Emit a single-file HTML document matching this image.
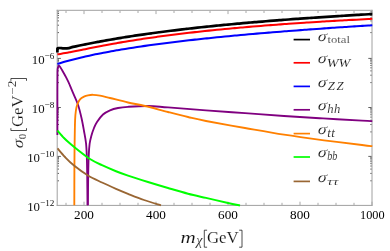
<!DOCTYPE html>
<html><head><meta charset="utf-8"><title>plot</title><style>html,body{margin:0;padding:0;background:#fff;width:390px;height:251px;overflow:hidden}</style></head><body>
<svg width="390" height="251" viewBox="0 0 390 251" style="position:absolute;left:0;top:0;will-change:transform">
<rect width="390" height="251" fill="#fff"/>
<g stroke="#a0a0a0" stroke-width="1" fill="none">
<path d="M57.2 9.8V205.9M56.7 10.3H372.5M56.7 205.4H372.5M372 9.8V205.9"/>
</g>
<path d="M66.00 205v-2.2M66.00 10.8v2.2M84.00 205v-3.3M84.00 10.8v3.3M102.00 205v-2.2M102.00 10.8v2.2M120.00 205v-2.2M120.00 10.8v2.2M138.00 205v-2.2M138.00 10.8v2.2M156.00 205v-3.3M156.00 10.8v3.3M174.00 205v-2.2M174.00 10.8v2.2M192.00 205v-2.2M192.00 10.8v2.2M210.00 205v-2.2M210.00 10.8v2.2M228.00 205v-3.3M228.00 10.8v3.3M246.00 205v-2.2M246.00 10.8v2.2M264.00 205v-2.2M264.00 10.8v2.2M282.00 205v-2.2M282.00 10.8v2.2M300.00 205v-3.3M300.00 10.8v3.3M318.00 205v-2.2M318.00 10.8v2.2M336.00 205v-2.2M336.00 10.8v2.2M354.00 205v-2.2M354.00 10.8v2.2M372.00 205v-3.3M372.00 10.8v3.3" stroke="#a8a8a8" stroke-width="1" fill="none"/>
<path d="M57.7 58.40h3.2M371.5 58.40h-3.2M57.7 107.50h3.2M371.5 107.50h-3.2M57.7 156.40h3.2M371.5 156.40h-3.2M57.7 32.60h1.3M371.6 32.60h-1.3M57.7 25.21h1.3M371.6 25.21h-1.3M57.7 20.89h1.3M371.6 20.89h-1.3M57.7 17.82h1.3M371.6 17.82h-1.3M57.7 15.44h1.3M371.6 15.44h-1.3M57.7 13.50h1.3M371.6 13.50h-1.3M57.7 11.85h1.3M371.6 11.85h-1.3M57.7 82.60h1.3M371.6 82.60h-1.3M57.7 75.21h1.3M371.6 75.21h-1.3M57.7 70.89h1.3M371.6 70.89h-1.3M57.7 67.82h1.3M371.6 67.82h-1.3M57.7 65.44h1.3M371.6 65.44h-1.3M57.7 63.50h1.3M371.6 63.50h-1.3M57.7 61.85h1.3M371.6 61.85h-1.3M57.7 60.43h1.3M371.6 60.43h-1.3M57.7 59.17h1.3M371.6 59.17h-1.3M57.7 131.90h1.3M371.6 131.90h-1.3M57.7 124.51h1.3M371.6 124.51h-1.3M57.7 120.19h1.3M371.6 120.19h-1.3M57.7 117.12h1.3M371.6 117.12h-1.3M57.7 114.74h1.3M371.6 114.74h-1.3M57.7 112.80h1.3M371.6 112.80h-1.3M57.7 111.15h1.3M371.6 111.15h-1.3M57.7 109.73h1.3M371.6 109.73h-1.3M57.7 108.47h1.3M371.6 108.47h-1.3M57.7 180.80h1.3M371.6 180.80h-1.3M57.7 173.41h1.3M371.6 173.41h-1.3M57.7 169.09h1.3M371.6 169.09h-1.3M57.7 166.02h1.3M371.6 166.02h-1.3M57.7 163.64h1.3M371.6 163.64h-1.3M57.7 161.70h1.3M371.6 161.70h-1.3M57.7 160.05h1.3M371.6 160.05h-1.3M57.7 158.63h1.3M371.6 158.63h-1.3M57.7 157.37h1.3M371.6 157.37h-1.3" stroke="#3a3a3a" stroke-width="0.8" fill="none"/>
<g fill="none" stroke-linejoin="round">
<path d="M57.40 52.50 L57.40 48.60 L58.50 48.10" stroke="#000" stroke-width="2.7"/>
<path d="M57.40 48.60 C57.58 48.52 58.07 48.20 58.50 48.10 C58.93 48.00 59.08 47.95 60.00 48.00 C60.92 48.05 62.50 48.38 64.00 48.40 C65.50 48.42 67.67 48.31 69.00 48.10 C70.33 47.89 70.87 47.43 72.00 47.13 C73.13 46.84 74.53 46.60 75.80 46.34 C77.07 46.07 78.34 45.81 79.60 45.55 C80.87 45.29 82.14 45.03 83.40 44.77 C84.67 44.51 85.94 44.26 87.21 44.00 C88.47 43.75 89.74 43.50 91.01 43.25 C92.27 43.00 93.54 42.76 94.81 42.52 C96.07 42.27 97.34 42.03 98.61 41.80 C99.88 41.56 101.14 41.32 102.41 41.09 C103.68 40.86 104.94 40.63 106.21 40.40 C107.48 40.17 108.75 39.95 110.01 39.73 C111.28 39.50 112.55 39.28 113.81 39.07 C115.08 38.85 116.35 38.64 117.62 38.42 C118.88 38.21 120.15 38.00 121.42 37.79 C122.68 37.59 123.95 37.38 125.22 37.18 C126.48 36.98 127.75 36.78 129.02 36.58 C130.29 36.38 131.55 36.18 132.82 35.99 C134.09 35.80 135.35 35.61 136.62 35.42 C137.89 35.23 139.16 35.04 140.42 34.85 C141.69 34.67 142.96 34.49 144.22 34.30 C145.49 34.12 146.76 33.94 148.03 33.77 C149.29 33.59 150.56 33.41 151.83 33.24 C153.09 33.06 154.36 32.89 155.63 32.72 C156.89 32.55 158.16 32.38 159.43 32.22 C160.70 32.05 161.96 31.89 163.23 31.72 C164.50 31.56 165.76 31.40 167.03 31.24 C168.30 31.08 169.57 30.92 170.83 30.76 C172.10 30.60 173.37 30.45 174.63 30.29 C175.90 30.14 177.17 29.99 178.44 29.84 C179.70 29.69 180.97 29.54 182.24 29.39 C183.50 29.24 184.77 29.09 186.04 28.95 C187.31 28.80 188.57 28.66 189.84 28.52 C191.11 28.37 192.37 28.23 193.64 28.09 C194.91 27.95 196.17 27.81 197.44 27.68 C198.71 27.54 199.98 27.40 201.24 27.27 C202.51 27.13 203.78 27.00 205.04 26.86 C206.31 26.73 207.58 26.60 208.85 26.47 C210.11 26.34 211.38 26.21 212.65 26.08 C213.91 25.95 215.18 25.83 216.45 25.70 C217.72 25.57 218.98 25.45 220.25 25.32 C221.52 25.20 222.78 25.08 224.05 24.96 C225.32 24.83 226.58 24.71 227.85 24.59 C229.12 24.47 230.39 24.35 231.65 24.24 C232.92 24.12 234.19 24.00 235.45 23.88 C236.72 23.77 237.99 23.65 239.26 23.54 C240.52 23.42 241.79 23.31 243.06 23.20 C244.32 23.09 245.59 22.97 246.86 22.86 C248.13 22.75 249.39 22.64 250.66 22.53 C251.93 22.42 253.19 22.32 254.46 22.21 C255.73 22.10 256.99 21.99 258.26 21.89 C259.53 21.78 260.80 21.68 262.06 21.57 C263.33 21.47 264.60 21.36 265.86 21.26 C267.13 21.16 268.40 21.06 269.67 20.95 C270.93 20.85 272.20 20.75 273.47 20.65 C274.73 20.55 276.00 20.45 277.27 20.36 C278.54 20.26 279.80 20.16 281.07 20.06 C282.34 19.96 283.60 19.87 284.87 19.77 C286.14 19.68 287.41 19.58 288.67 19.49 C289.94 19.39 291.21 19.30 292.47 19.21 C293.74 19.11 295.01 19.02 296.27 18.93 C297.54 18.84 298.81 18.74 300.08 18.65 C301.34 18.56 302.61 18.47 303.88 18.38 C305.14 18.29 306.41 18.21 307.68 18.12 C308.95 18.03 310.21 17.94 311.48 17.85 C312.75 17.77 314.01 17.68 315.28 17.59 C316.55 17.51 317.82 17.42 319.08 17.34 C320.35 17.25 321.62 17.17 322.88 17.08 C324.15 17.00 325.42 16.92 326.68 16.83 C327.95 16.75 329.22 16.67 330.49 16.59 C331.75 16.50 333.02 16.42 334.29 16.34 C335.55 16.26 336.82 16.18 338.09 16.10 C339.36 16.02 340.62 15.94 341.89 15.86 C343.16 15.78 344.42 15.71 345.69 15.63 C346.96 15.55 348.23 15.47 349.49 15.40 C350.76 15.32 352.03 15.24 353.29 15.17 C354.56 15.09 355.83 15.01 357.09 14.94 C358.36 14.86 359.63 14.79 360.90 14.71 C362.16 14.64 363.43 14.57 364.70 14.49 C365.96 14.42 367.23 14.35 368.50 14.27 C369.77 14.20 371.67 14.09 372.30 14.06" stroke="#000" stroke-width="2.7"/>
<path d="M57.40 54.32 C58.06 54.22 60.06 53.94 61.39 53.73 C62.71 53.52 64.04 53.29 65.37 53.05 C66.70 52.82 68.03 52.57 69.36 52.31 C70.69 52.06 72.02 51.80 73.34 51.54 C74.67 51.28 76.00 51.01 77.33 50.74 C78.66 50.48 79.99 50.21 81.32 49.94 C82.65 49.67 83.97 49.40 85.30 49.13 C86.63 48.86 87.96 48.60 89.29 48.33 C90.62 48.06 91.95 47.80 93.27 47.54 C94.60 47.28 95.93 47.01 97.26 46.76 C98.59 46.50 99.92 46.24 101.25 45.99 C102.58 45.73 103.90 45.48 105.23 45.24 C106.56 44.99 107.89 44.74 109.22 44.50 C110.55 44.25 111.88 44.01 113.21 43.77 C114.53 43.54 115.86 43.30 117.19 43.07 C118.52 42.84 119.85 42.61 121.18 42.38 C122.51 42.15 123.83 41.93 125.16 41.70 C126.49 41.48 127.82 41.26 129.15 41.05 C130.48 40.83 131.81 40.61 133.14 40.40 C134.46 40.19 135.79 39.98 137.12 39.77 C138.45 39.57 139.78 39.36 141.11 39.16 C142.44 38.96 143.76 38.76 145.09 38.56 C146.42 38.36 147.75 38.17 149.08 37.98 C150.41 37.78 151.74 37.59 153.07 37.41 C154.39 37.22 155.72 37.03 157.05 36.85 C158.38 36.66 159.71 36.48 161.04 36.30 C162.37 36.12 163.70 35.95 165.02 35.77 C166.35 35.59 167.68 35.42 169.01 35.25 C170.34 35.08 171.67 34.91 173.00 34.74 C174.32 34.57 175.65 34.41 176.98 34.24 C178.31 34.08 179.64 33.92 180.97 33.76 C182.30 33.60 183.63 33.44 184.95 33.28 C186.28 33.13 187.61 32.97 188.94 32.82 C190.27 32.66 191.60 32.51 192.93 32.36 C194.26 32.21 195.58 32.06 196.91 31.92 C198.24 31.77 199.57 31.62 200.90 31.48 C202.23 31.34 203.56 31.20 204.88 31.05 C206.21 30.91 207.54 30.77 208.87 30.64 C210.20 30.50 211.53 30.36 212.86 30.23 C214.19 30.09 215.51 29.96 216.84 29.83 C218.17 29.69 219.50 29.56 220.83 29.43 C222.16 29.30 223.49 29.18 224.82 29.05 C226.14 28.92 227.47 28.80 228.80 28.67 C230.13 28.55 231.46 28.42 232.79 28.30 C234.12 28.18 235.44 28.06 236.77 27.94 C238.10 27.82 239.43 27.70 240.76 27.58 C242.09 27.47 243.42 27.35 244.75 27.24 C246.07 27.12 247.40 27.01 248.73 26.89 C250.06 26.78 251.39 26.67 252.72 26.56 C254.05 26.45 255.38 26.34 256.70 26.23 C258.03 26.12 259.36 26.01 260.69 25.91 C262.02 25.80 263.35 25.69 264.68 25.59 C266.00 25.49 267.33 25.38 268.66 25.28 C269.99 25.18 271.32 25.07 272.65 24.97 C273.98 24.87 275.31 24.77 276.63 24.67 C277.96 24.57 279.29 24.48 280.62 24.38 C281.95 24.28 283.28 24.18 284.61 24.09 C285.94 23.99 287.26 23.90 288.59 23.80 C289.92 23.71 291.25 23.62 292.58 23.53 C293.91 23.43 295.24 23.34 296.56 23.25 C297.89 23.16 299.22 23.07 300.55 22.98 C301.88 22.89 303.21 22.80 304.54 22.72 C305.87 22.63 307.19 22.54 308.52 22.46 C309.85 22.37 311.18 22.28 312.51 22.20 C313.84 22.12 315.17 22.03 316.49 21.95 C317.82 21.86 319.15 21.78 320.48 21.70 C321.81 21.62 323.14 21.54 324.47 21.46 C325.80 21.38 327.12 21.30 328.45 21.22 C329.78 21.14 331.11 21.06 332.44 20.98 C333.77 20.90 335.10 20.83 336.43 20.75 C337.75 20.67 339.08 20.60 340.41 20.52 C341.74 20.45 343.07 20.37 344.40 20.30 C345.73 20.22 347.05 20.15 348.38 20.08 C349.71 20.00 351.04 19.93 352.37 19.86 C353.70 19.79 355.03 19.72 356.36 19.65 C357.68 19.58 359.01 19.51 360.34 19.44 C361.67 19.37 363.00 19.30 364.33 19.23 C365.66 19.16 366.99 19.09 368.31 19.03 C369.64 18.96 371.64 18.86 372.30 18.82" stroke="#f00" stroke-width="2.05"/>
<path d="M57.40 63.93 C58.06 63.72 60.06 63.11 61.39 62.71 C62.71 62.32 64.04 61.93 65.37 61.56 C66.70 61.18 68.03 60.81 69.36 60.46 C70.69 60.10 72.02 59.75 73.34 59.41 C74.67 59.07 76.00 58.73 77.33 58.40 C78.66 58.08 79.99 57.76 81.32 57.44 C82.65 57.13 83.97 56.82 85.30 56.52 C86.63 56.22 87.96 55.93 89.29 55.64 C90.62 55.35 91.95 55.06 93.27 54.78 C94.60 54.51 95.93 54.23 97.26 53.96 C98.59 53.69 99.92 53.43 101.25 53.17 C102.58 52.91 103.90 52.65 105.23 52.40 C106.56 52.15 107.89 51.90 109.22 51.66 C110.55 51.42 111.88 51.18 113.21 50.94 C114.53 50.71 115.86 50.47 117.19 50.24 C118.52 50.02 119.85 49.79 121.18 49.57 C122.51 49.35 123.83 49.13 125.16 48.91 C126.49 48.69 127.82 48.48 129.15 48.27 C130.48 48.06 131.81 47.85 133.14 47.65 C134.46 47.44 135.79 47.24 137.12 47.04 C138.45 46.84 139.78 46.64 141.11 46.45 C142.44 46.25 143.76 46.06 145.09 45.87 C146.42 45.68 147.75 45.49 149.08 45.31 C150.41 45.12 151.74 44.94 153.07 44.76 C154.39 44.58 155.72 44.40 157.05 44.22 C158.38 44.04 159.71 43.87 161.04 43.70 C162.37 43.52 163.70 43.35 165.02 43.18 C166.35 43.01 167.68 42.84 169.01 42.68 C170.34 42.51 171.67 42.35 173.00 42.18 C174.32 42.02 175.65 41.86 176.98 41.70 C178.31 41.54 179.64 41.38 180.97 41.23 C182.30 41.07 183.63 40.92 184.95 40.76 C186.28 40.61 187.61 40.46 188.94 40.31 C190.27 40.16 191.60 40.01 192.93 39.86 C194.26 39.71 195.58 39.57 196.91 39.42 C198.24 39.28 199.57 39.13 200.90 38.99 C202.23 38.85 203.56 38.71 204.88 38.57 C206.21 38.43 207.54 38.29 208.87 38.15 C210.20 38.01 211.53 37.87 212.86 37.74 C214.19 37.60 215.51 37.47 216.84 37.34 C218.17 37.20 219.50 37.07 220.83 36.94 C222.16 36.81 223.49 36.68 224.82 36.55 C226.14 36.42 227.47 36.29 228.80 36.17 C230.13 36.04 231.46 35.91 232.79 35.79 C234.12 35.66 235.44 35.54 236.77 35.42 C238.10 35.29 239.43 35.17 240.76 35.05 C242.09 34.93 243.42 34.81 244.75 34.69 C246.07 34.57 247.40 34.45 248.73 34.33 C250.06 34.22 251.39 34.10 252.72 33.98 C254.05 33.87 255.38 33.75 256.70 33.64 C258.03 33.52 259.36 33.41 260.69 33.30 C262.02 33.18 263.35 33.07 264.68 32.96 C266.00 32.85 267.33 32.74 268.66 32.63 C269.99 32.52 271.32 32.41 272.65 32.30 C273.98 32.19 275.31 32.08 276.63 31.98 C277.96 31.87 279.29 31.76 280.62 31.66 C281.95 31.55 283.28 31.45 284.61 31.34 C285.94 31.24 287.26 31.13 288.59 31.03 C289.92 30.93 291.25 30.83 292.58 30.72 C293.91 30.62 295.24 30.52 296.56 30.42 C297.89 30.32 299.22 30.22 300.55 30.12 C301.88 30.02 303.21 29.92 304.54 29.82 C305.87 29.73 307.19 29.63 308.52 29.53 C309.85 29.43 311.18 29.34 312.51 29.24 C313.84 29.15 315.17 29.05 316.49 28.95 C317.82 28.86 319.15 28.77 320.48 28.67 C321.81 28.58 323.14 28.49 324.47 28.39 C325.80 28.30 327.12 28.21 328.45 28.12 C329.78 28.02 331.11 27.93 332.44 27.84 C333.77 27.75 335.10 27.66 336.43 27.57 C337.75 27.48 339.08 27.39 340.41 27.30 C341.74 27.21 343.07 27.13 344.40 27.04 C345.73 26.95 347.05 26.86 348.38 26.78 C349.71 26.69 351.04 26.60 352.37 26.52 C353.70 26.43 355.03 26.35 356.36 26.26 C357.68 26.17 359.01 26.09 360.34 26.01 C361.67 25.92 363.00 25.84 364.33 25.75 C365.66 25.67 366.99 25.59 368.31 25.51 C369.64 25.42 371.64 25.30 372.30 25.26" stroke="#00f" stroke-width="2.05"/>
<path d="M57.40 135.00 C57.40 132.50 57.40 127.50 57.40 120.00 C57.40 112.50 57.38 98.00 57.40 90.00 C57.42 82.00 57.43 75.67 57.50 72.00 C57.57 68.33 57.60 69.05 57.80 68.00 C58.00 66.95 58.33 65.90 58.70 65.70 C59.07 65.50 59.45 66.08 60.00 66.80 C60.55 67.52 61.33 68.88 62.00 70.00 C62.67 71.12 63.33 72.30 64.00 73.50 C64.67 74.70 65.25 75.75 66.00 77.20 C66.75 78.65 67.83 80.78 68.50 82.20 C69.17 83.62 69.08 83.53 70.00 85.70 C70.92 87.87 72.67 92.02 74.00 95.20 C75.33 98.38 76.75 101.00 78.00 104.80 C79.25 108.60 80.50 113.63 81.50 118.00 C82.50 122.37 83.25 126.83 84.00 131.00 C84.75 135.17 85.53 138.83 86.00 143.00 C86.47 147.17 86.60 150.67 86.80 156.00 C87.00 161.33 87.08 166.78 87.20 175.00 C87.32 183.22 87.45 200.25 87.50 205.30" stroke="#800080" stroke-width="1.85"/>
<path d="M87.90 205.30 C87.95 200.25 88.07 183.22 88.20 175.00 C88.33 166.78 88.47 161.17 88.70 156.00 C88.93 150.83 89.17 147.33 89.60 144.00 C90.03 140.67 90.57 138.67 91.30 136.00 C92.03 133.33 93.05 130.33 94.00 128.00 C94.95 125.67 95.50 124.25 97.00 122.00 C98.50 119.75 100.83 116.45 103.00 114.50 C105.17 112.55 107.50 111.38 110.00 110.30 C112.50 109.22 115.00 108.58 118.00 108.00 C121.00 107.42 123.00 107.13 128.00 106.80 C133.00 106.47 141.33 105.90 148.00 106.00 C154.67 106.10 158.33 106.67 168.00 107.40 C177.67 108.13 193.17 109.43 206.00 110.40 C218.83 111.37 232.00 112.27 245.00 113.20 C258.00 114.13 271.00 115.13 284.00 116.00 C297.00 116.87 310.00 117.63 323.00 118.40 C336.00 119.17 353.78 120.15 362.00 120.60 C370.22 121.05 370.58 121.02 372.30 121.10" stroke="#800080" stroke-width="1.85"/>
<path d="M74.30 205.30 C74.32 199.42 74.35 180.05 74.40 170.00 C74.45 159.95 74.48 153.33 74.60 145.00 C74.72 136.67 74.87 125.83 75.10 120.00 C75.33 114.17 75.63 112.58 76.00 110.00 C76.37 107.42 76.63 106.27 77.30 104.50 C77.97 102.73 78.88 100.72 80.00 99.40 C81.12 98.08 82.67 97.28 84.00 96.60 C85.33 95.92 86.50 95.60 88.00 95.30 C89.50 95.00 91.00 94.75 93.00 94.80 C95.00 94.85 97.17 95.07 100.00 95.60 C102.83 96.13 105.33 96.85 110.00 98.00 C114.67 99.15 122.17 101.17 128.00 102.50 C133.83 103.83 138.33 104.42 145.00 106.00 C151.67 107.58 160.83 110.17 168.00 112.00 C175.17 113.83 181.67 115.50 188.00 117.00 C194.33 118.50 196.50 119.17 206.00 121.00 C215.50 122.83 232.00 125.72 245.00 128.00 C258.00 130.28 270.83 132.65 284.00 134.70 C297.17 136.75 311.00 138.58 324.00 140.30 C337.00 142.02 353.95 144.02 362.00 145.00 C370.05 145.98 370.58 146.00 372.30 146.20" stroke="#ff8000" stroke-width="1.85"/>
<path d="M57.40 130.60 C58.50 131.83 61.90 135.83 64.00 138.00 C66.10 140.17 68.00 141.85 70.00 143.60 C72.00 145.35 72.67 145.93 76.00 148.50 C79.33 151.07 85.67 156.22 90.00 159.00 C94.33 161.78 97.67 163.17 102.00 165.20 C106.33 167.23 111.67 169.47 116.00 171.20 C120.33 172.93 122.67 173.80 128.00 175.60 C133.33 177.40 141.33 179.93 148.00 182.00 C154.67 184.07 161.33 186.05 168.00 188.00 C174.67 189.95 181.67 192.05 188.00 193.70 C194.33 195.35 199.33 196.37 206.00 197.90 C212.67 199.43 222.33 201.65 228.00 202.90 C233.67 204.15 238.00 204.98 240.00 205.40" stroke="#00ff00" stroke-width="2.0"/>
<path d="M57.50 148.40 C58.75 149.83 62.25 154.15 65.00 157.00 C67.75 159.85 70.17 162.42 74.00 165.50 C77.83 168.58 83.33 172.67 88.00 175.50 C92.67 178.33 97.33 180.28 102.00 182.50 C106.67 184.72 111.67 186.92 116.00 188.80 C120.33 190.68 123.33 191.93 128.00 193.80 C132.67 195.67 138.50 198.08 144.00 200.00 C149.50 201.92 158.17 204.42 161.00 205.30" stroke="#996633" stroke-width="1.85"/>
</g>
<path d="M293.6 39.6H310" stroke="#000" stroke-width="1.7"/>
<path d="M293.6 62.8H310" stroke="#f00" stroke-width="1.7"/>
<path d="M293.6 86.4H310" stroke="#00f" stroke-width="1.7"/>
<path d="M293.6 109.8H310" stroke="#800080" stroke-width="1.7"/>
<path d="M293.6 133.6H310" stroke="#ff8000" stroke-width="1.7"/>
<path d="M293.6 157.0H310" stroke="#00ff00" stroke-width="1.7"/>
<path d="M293.6 181.4H310" stroke="#996633" stroke-width="1.7"/>
<text transform="translate(316.96 40.85) skewX(-14) scale(1.125 1)" style="font-family:'Liberation Serif',serif;font-size:15.00px;" fill="#111" stroke="#fff" stroke-width="0.12">σ</text>
<text transform="translate(316.96 63.35) skewX(-14) scale(1.125 1)" style="font-family:'Liberation Serif',serif;font-size:15.00px;" fill="#111" stroke="#fff" stroke-width="0.12">σ</text>
<text transform="translate(316.96 87.15) skewX(-14) scale(1.125 1)" style="font-family:'Liberation Serif',serif;font-size:15.00px;" fill="#111" stroke="#fff" stroke-width="0.12">σ</text>
<text transform="translate(316.96 110.15) skewX(-14) scale(1.125 1)" style="font-family:'Liberation Serif',serif;font-size:15.00px;" fill="#111" stroke="#fff" stroke-width="0.12">σ</text>
<text transform="translate(316.96 133.65) skewX(-14) scale(1.125 1)" style="font-family:'Liberation Serif',serif;font-size:15.00px;" fill="#111" stroke="#fff" stroke-width="0.12">σ</text>
<text transform="translate(316.96 157.35) skewX(-14) scale(1.125 1)" style="font-family:'Liberation Serif',serif;font-size:15.00px;" fill="#111" stroke="#fff" stroke-width="0.12">σ</text>
<text transform="translate(316.96 181.65) skewX(-14) scale(1.125 1)" style="font-family:'Liberation Serif',serif;font-size:15.00px;" fill="#111" stroke="#fff" stroke-width="0.12">σ</text>
<text transform="translate(327.58 42.75) scale(1.166 1)" style="font-family:'Liberation Serif',serif;font-size:10.80px;" fill="#111" stroke="#fff" stroke-width="0.19">total</text>
<text transform="translate(326.66 66.60) scale(1.110 1)" style="font-family:'Liberation Serif',serif;font-size:12.80px;font-style:italic;" fill="#111" stroke="#fff" stroke-width="0.13">WW</text>
<text transform="translate(327.74 90.00)" style="font-family:'Liberation Serif',serif;font-size:12.80px;font-style:italic;letter-spacing:1.70px;" fill="#111" stroke="#fff" stroke-width="0.14">ZZ</text>
<text transform="translate(327.14 113.00)" style="font-family:'Liberation Serif',serif;font-size:12.70px;font-style:italic;letter-spacing:0.60px;" fill="#111" stroke="#fff" stroke-width="0.14">hh</text>
<text transform="translate(327.13 136.80)" style="font-family:'Liberation Serif',serif;font-size:13.00px;font-style:italic;letter-spacing:0.50px;" fill="#111" stroke="#fff" stroke-width="0.14">tt</text>
<text transform="translate(327.22 159.90) scale(0.811 1)" style="font-family:'Liberation Serif',serif;font-size:12.70px;font-style:italic;" fill="#111" stroke="#fff" stroke-width="0.14">bb</text>
<text transform="translate(327.27 185.30) scale(1.317 1)" style="font-family:'Liberation Serif',serif;font-size:11.30px;font-style:italic;letter-spacing:0.40px;" fill="#111" stroke="#fff" stroke-width="0.11">ττ</text>
<text transform="translate(84.0 219.1) scale(1.00 1)" text-anchor="middle" style="font-family:'Liberation Serif',serif;font-size:13.2px" fill="#000">200</text>
<text transform="translate(156.0 219.1) scale(1.00 1)" text-anchor="middle" style="font-family:'Liberation Serif',serif;font-size:13.2px" fill="#000">400</text>
<text transform="translate(228.0 219.1) scale(1.00 1)" text-anchor="middle" style="font-family:'Liberation Serif',serif;font-size:13.2px" fill="#000">600</text>
<text transform="translate(300.0 219.1) scale(1.00 1)" text-anchor="middle" style="font-family:'Liberation Serif',serif;font-size:13.2px" fill="#000">800</text>
<text transform="translate(372.3 219.1) scale(0.93 1)" text-anchor="middle" style="font-family:'Liberation Serif',serif;font-size:13.2px" fill="#000">1000</text>
<text x="54.4" y="63.7" text-anchor="end" style="font-family:'Liberation Serif',serif;font-size:12.8px" fill="#111">10<tspan style="font-size:9.2px" dy="-5.1">−6</tspan></text>
<text x="54.4" y="112.8" text-anchor="end" style="font-family:'Liberation Serif',serif;font-size:12.8px" fill="#111">10<tspan style="font-size:9.2px" dy="-5.1">−8</tspan></text>
<text x="54.4" y="161.9" text-anchor="end" style="font-family:'Liberation Serif',serif;font-size:12.8px" fill="#111">10<tspan style="font-size:9.2px" dy="-5.1">−10</tspan></text>
<text x="54.4" y="211.0" text-anchor="end" style="font-family:'Liberation Serif',serif;font-size:12.8px" fill="#111">10<tspan style="font-size:9.2px" dy="-5.1">−12</tspan></text>
<text transform="translate(180.54 242.80) scale(1.295 1)" style="font-family:'Liberation Serif',serif;font-size:16.30px;font-style:italic;" fill="#111" stroke="#fff" stroke-width="0.11">m</text>
<text transform="translate(196.33 244.90) scale(1.026 1)" style="font-family:'Liberation Serif',serif;font-size:13.70px;font-style:italic;" fill="#111" stroke="#fff" stroke-width="0.14">χ</text>
<path d="M207.1 230.2H204.3V247.2H207.1" fill="none" stroke="#111" stroke-width="0.75"/>
<text transform="translate(206.91 242.90) scale(0.959 1)" style="font-family:'Liberation Serif',serif;font-size:17.60px;" fill="#111" stroke="#fff" stroke-width="0.14">GeV</text>
<path d="M239.2 230.2H242V247.2H239.2" fill="none" stroke="#111" stroke-width="0.75"/>
<text transform="translate(23.2 148.5) rotate(-90) translate(-0.43 0.00) skewX(-14) scale(1.056 1)" style="font-family:'Liberation Serif',serif;font-size:15.60px;" fill="#111" stroke="#fff" stroke-width="0.13">σ</text>
<text transform="translate(23.2 148.5) rotate(-90) translate(9.18 2.50)" style="font-family:'Liberation Serif',serif;font-size:11.00px;" fill="#111" stroke="#fff" stroke-width="0.14">0</text>
<path transform="translate(23.2 148.5) rotate(-90)" d="M20.3 3.3H18V-12.3H20.3" fill="none" stroke="#111" stroke-width="0.75"/>
<text transform="translate(23.2 148.5) rotate(-90) translate(21.41 0.00) scale(0.959 1)" style="font-family:'Liberation Serif',serif;font-size:17.60px;" fill="#111" stroke="#fff" stroke-width="0.14">GeV</text>
<text transform="translate(23.2 148.5) rotate(-90) translate(53.64 -6.90) scale(1.161 1)" style="font-family:'Liberation Serif',serif;font-size:11.50px;" fill="#111" stroke="#fff" stroke-width="0.12">−2</text>
<path transform="translate(23.2 148.5) rotate(-90)" d="M67.7 3.3H70V-12.3H67.7" fill="none" stroke="#111" stroke-width="0.75"/>
</svg>
</body></html>
